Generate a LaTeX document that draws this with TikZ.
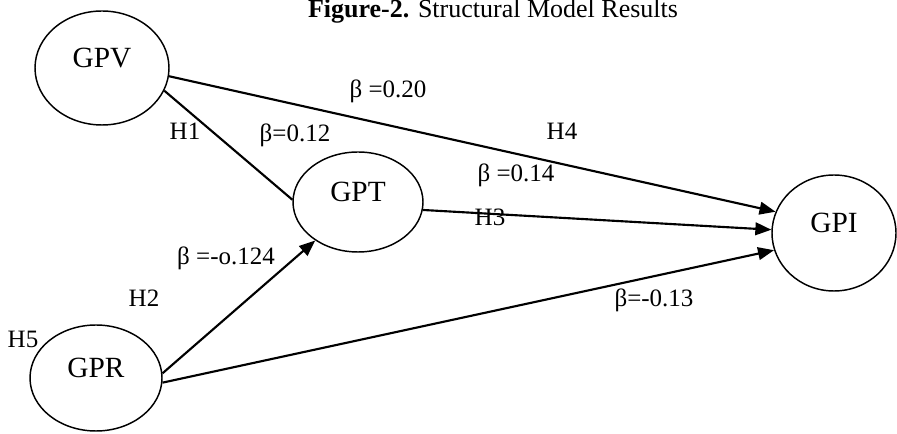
\documentclass[tikz,border=0pt]{standalone}
\usepackage{fontspec}
\setmainfont{Liberation Serif}
\usetikzlibrary{shapes.geometric,arrows.meta}
\begin{document}
\begin{tikzpicture}[x=0.75pt,y=-0.75pt,
  latent/.style={ellipse,draw,line width=1.1pt,inner sep=0pt,
    font=\fontsize{22}{24}\selectfont,text height=8pt,text depth=8pt},
  conn/.style={line width=1.6pt},
  arr/.style={conn,-{Triangle[length=12pt,width=9.5pt]}},
  lab/.style={anchor=base,inner sep=0pt,font=\fontsize{18.75}{20}\selectfont}]
\useasboundingbox (0,0) rectangle (897,434);

\node[anchor=base,inner sep=0pt,font=\fontsize{19.5}{21}\selectfont] (title) at (493,18)
  {\textbf{Figure-2.} Structural Model Results};

\node[latent,minimum width=100.5pt,minimum height=85.5pt] (gpv) at (102,68) {GPV};
\node[latent,minimum width=97.5pt,minimum height=75pt] (gpt) at (358,202) {GPT};
\node[latent,minimum width=99pt,minimum height=79.5pt] (gpr) at (96,378) {GPR};
\node[latent,minimum width=93pt,minimum height=87pt] (gpi) at (834,233) {GPI};

\draw[arr] (gpv.-7) -- (gpi.160);
\draw[conn] (gpv.-20) -- (gpt.178);
\draw[arr] (gpt.-7) -- (gpi.177);
\draw[arr] (gpr.4) -- (gpt.222);
\draw[arr] (gpr.-4) -- (gpi.196);

\node[lab] (b20) at (388,98) {β =0.20};
\node[lab] (h1) at (185,140) {H1};
\node[lab] (b12) at (295,141.5) {β=0.12};
\node[lab] (h4) at (562,140) {H4};
\node[lab] (b14) at (516,182) {β =0.14};
\node[lab] (h3) at (490,226) {H3};
\node[lab] (b124) at (226,265) {β =-o.124};
\node[lab] (h2) at (144,307) {H2};
\node[lab] (h5) at (23,348) {H5};
\node[lab] (b13) at (654,307) {β=-0.13};
\end{tikzpicture}
\end{document}
